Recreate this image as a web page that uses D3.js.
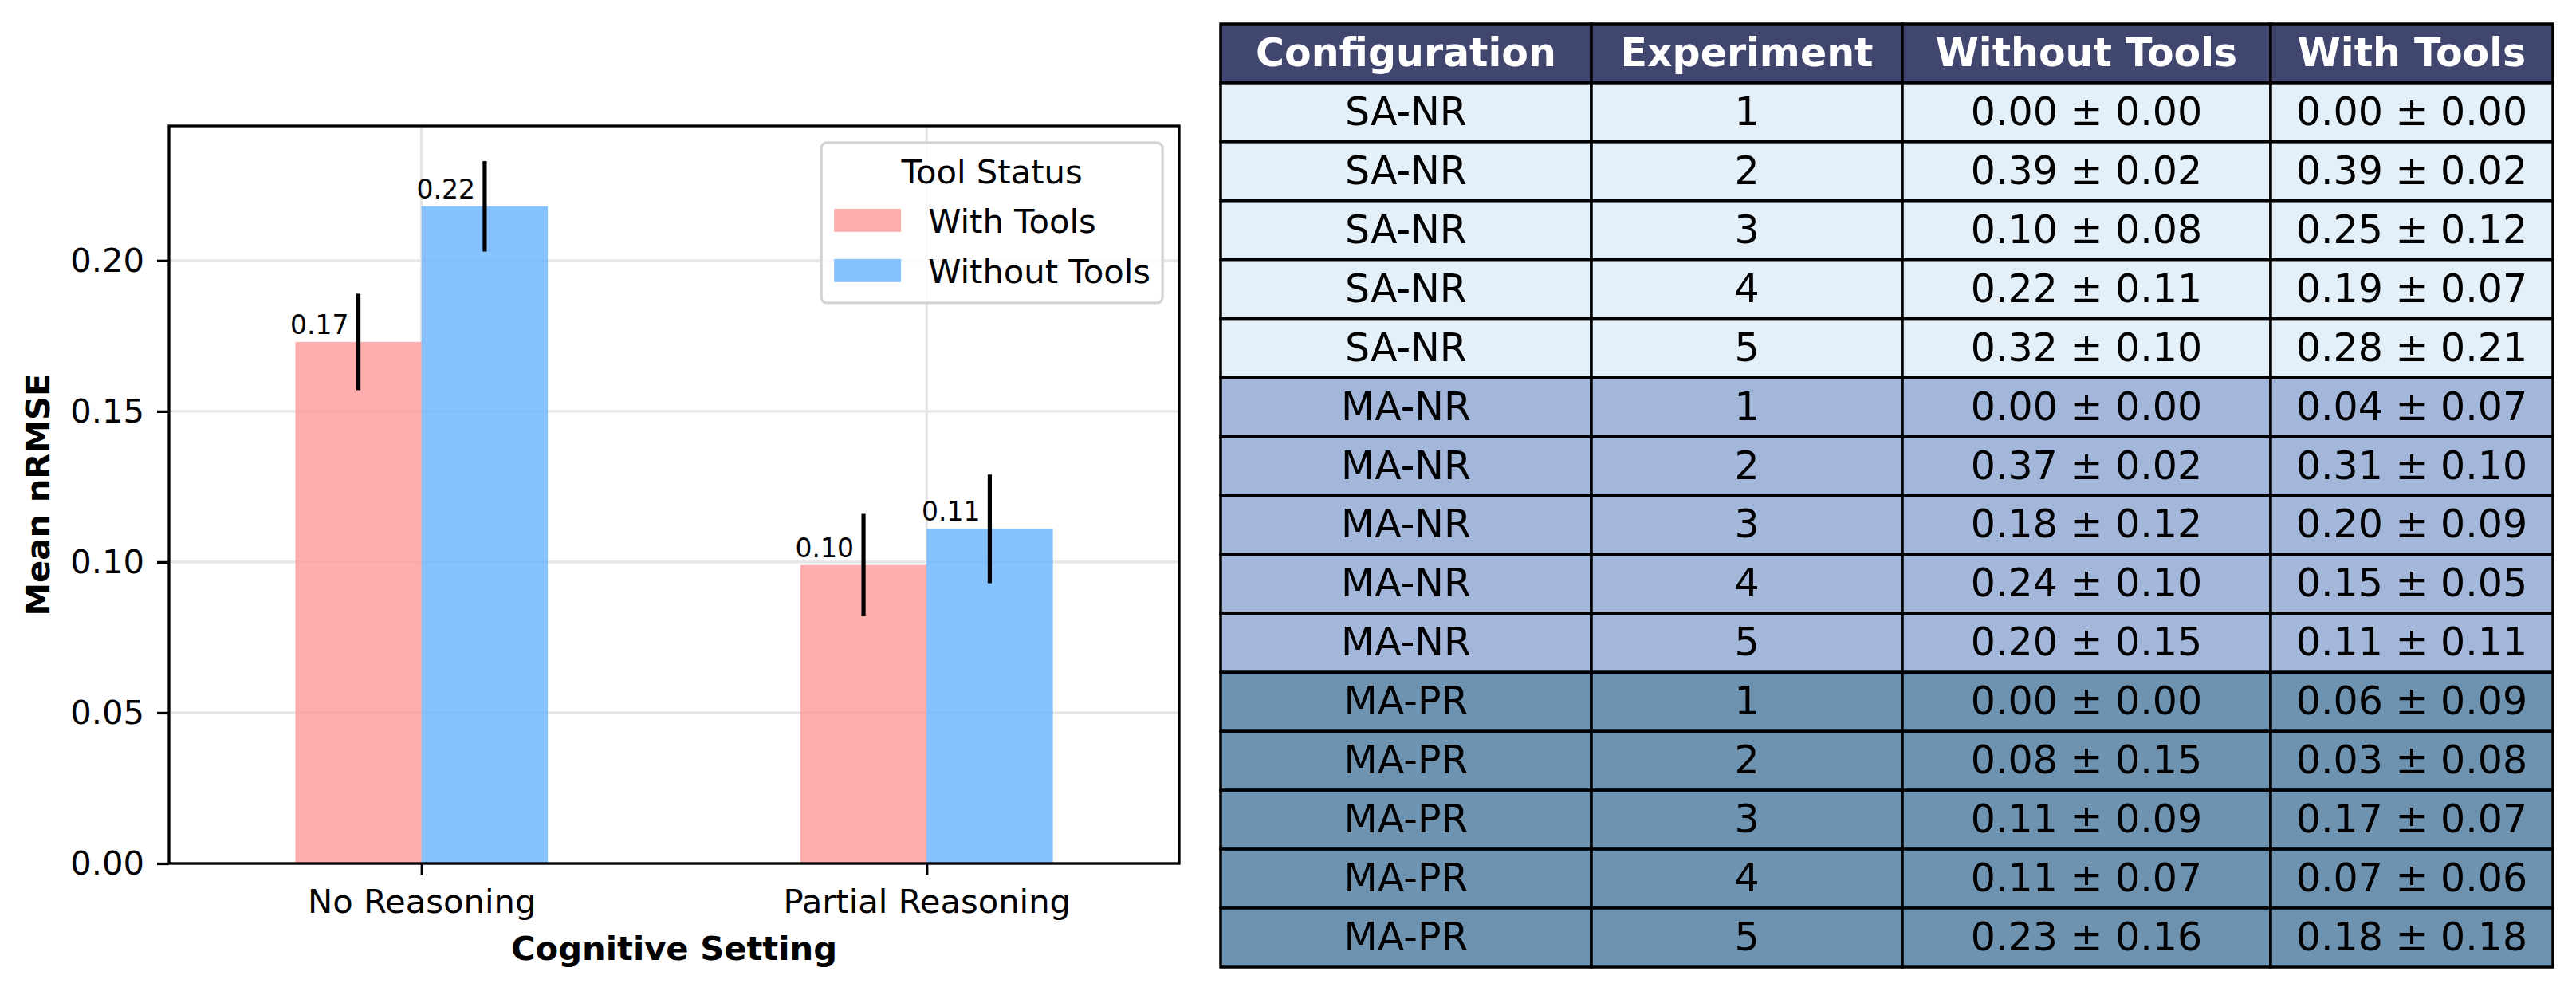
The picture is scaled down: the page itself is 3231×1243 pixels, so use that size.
<!DOCTYPE html>
<html>
<head>
<meta charset="utf-8">
<script src="https://cdn.jsdelivr.net/npm/d3@7"></script>
<style>
  body { margin: 0; background: #ffffff; }
  svg text { font-family: "DejaVu Sans", sans-serif; }
</style>
</head>
<body>
<svg id="chart-svg" width="3231" height="1243"></svg>
<script>
////////////////////////////////////////////////////////////////////////////////
// Data
var settings = ["No Reasoning", "Partial Reasoning"];
var toolStatus = ["With Tools", "Without Tools"];
var meanWith = [0.173, 0.099];
var meanWithout = [0.218, 0.111];
var errWith = [0.016, 0.017];
var errWithout = [0.015, 0.018];
var yTicks = [0.00, 0.05, 0.10, 0.15, 0.20];

var tableHeader = ["Configuration", "Experiment", "Without Tools", "With Tools"];
var configs = ["SA-NR", "SA-NR", "SA-NR", "SA-NR", "SA-NR",
               "MA-NR", "MA-NR", "MA-NR", "MA-NR", "MA-NR",
               "MA-PR", "MA-PR", "MA-PR", "MA-PR", "MA-PR"];
var experiments = [1, 2, 3, 4, 5, 1, 2, 3, 4, 5, 1, 2, 3, 4, 5];
var withoutTools = ["0.00 ± 0.00", "0.39 ± 0.02", "0.10 ± 0.08", "0.22 ± 0.11", "0.32 ± 0.10",
                    "0.00 ± 0.00", "0.37 ± 0.02", "0.18 ± 0.12", "0.24 ± 0.10", "0.20 ± 0.15",
                    "0.00 ± 0.00", "0.08 ± 0.15", "0.11 ± 0.09", "0.11 ± 0.07", "0.23 ± 0.16"];
var withTools = ["0.00 ± 0.00", "0.39 ± 0.02", "0.25 ± 0.12", "0.19 ± 0.07", "0.28 ± 0.21",
                 "0.04 ± 0.07", "0.31 ± 0.10", "0.20 ± 0.09", "0.15 ± 0.05", "0.11 ± 0.11",
                 "0.06 ± 0.09", "0.03 ± 0.08", "0.17 ± 0.07", "0.07 ± 0.06", "0.18 ± 0.18"];

////////////////////////////////////////////////////////////////////////////////
const svg = d3.select("#chart-svg");
svg.append("rect").attr("width", 3231).attr("height", 1243).attr("fill", "#ffffff");

// Bar chart margins (axes box)
var ax_left = 212, ax_right = 1479, ax_top = 158, ax_bottom = 1083;
var fs_tick = 41.7;
var lw = 3.3;
var barWidth = 0.25;

var series = [
  { name: toolStatus[0], color: "#ff9999", mean: meanWith, err: errWith, offset: -barWidth/2 },
  { name: toolStatus[1], color: "#66b3ff", mean: meanWithout, err: errWithout, offset: barWidth/2 }
];

var yMax = d3.max(series, function(s) { return d3.max(s.mean, function(d,i) { return d + s.err[i]; }); }) * 1.05;

var x = d3.scaleLinear().domain([-0.5, settings.length - 0.5]).range([ax_left, ax_right]);
var y = d3.scaleLinear().domain([0, yMax]).range([ax_bottom, ax_top]);

function drawChart() {
  var g = svg.append("g");

  // grid
  g.selectAll(".hgrid")
      .data(yTicks)
      .enter()
      .append("line")
      .attr("x1", ax_left).attr("x2", ax_right)
      .attr("y1", function(d) { return y(d); })
      .attr("y2", function(d) { return y(d); })
      .attr("stroke", "#e6e6e6")
      .attr("stroke-width", lw);
  g.selectAll(".vgrid")
      .data(settings)
      .enter()
      .append("line")
      .attr("x1", function(d,i) { return x(i); })
      .attr("x2", function(d,i) { return x(i); })
      .attr("y1", ax_top).attr("y2", ax_bottom)
      .attr("stroke", "#e6e6e6")
      .attr("stroke-width", lw);

  // bars, error bars, value labels
  series.forEach(function(s) {
    var bw = x(barWidth) - x(0);
    g.selectAll(".bar")
        .data(s.mean)
        .enter()
        .append("rect")
        .attr("x", function(d,i) { return x(i + s.offset - barWidth/2); })
        .attr("y", function(d) { return y(d); })
        .attr("width", bw)
        .attr("height", function(d) { return y(0) - y(d); })
        .attr("fill", s.color)
        .attr("fill-opacity", 0.8);
    g.selectAll(".err")
        .data(s.mean)
        .enter()
        .append("line")
        .attr("x1", function(d,i) { return x(i + s.offset); })
        .attr("x2", function(d,i) { return x(i + s.offset); })
        .attr("y1", function(d,i) { return y(d - s.err[i]); })
        .attr("y2", function(d,i) { return y(d + s.err[i]); })
        .attr("stroke", "#000000")
        .attr("stroke-width", 5.2);
    g.selectAll(".vlabel")
        .data(s.mean)
        .enter()
        .append("text")
        .attr("x", function(d,i) { return x(i + s.offset) - 12; })
        .attr("y", function(d) { return y(d) - 10; })
        .attr("text-anchor", "end")
        .attr("font-size", 33)
        .text(function(d) { return d3.format(".2f")(d); });
  });

  // axes
  var yAxis = g.append("g")
      .attr("transform", "translate(" + ax_left + ",0)")
      .call(d3.axisLeft(y).tickValues(yTicks).tickFormat(d3.format(".2f")).tickSize(15).tickPadding(16));
  var xAxis = g.append("g")
      .attr("transform", "translate(0," + ax_bottom + ")")
      .call(d3.axisBottom(x).tickValues(d3.range(settings.length))
                            .tickFormat(function(d) { return settings[d]; })
                            .tickSize(15).tickPadding(17));
  [xAxis, yAxis].forEach(function(a) {
    a.select(".domain").remove();
    a.selectAll(".tick line").attr("stroke", "#000").attr("stroke-width", lw);
    a.selectAll(".tick text").attr("font-size", fs_tick).attr("fill", "#000")
        .attr("font-family", "DejaVu Sans");
  });

  // frame
  g.append("rect")
      .attr("x", ax_left).attr("y", ax_top)
      .attr("width", ax_right - ax_left).attr("height", ax_bottom - ax_top)
      .attr("fill", "none")
      .attr("stroke", "#000")
      .attr("stroke-width", lw);

  // axis labels
  g.append("text")
      .attr("x", (ax_left + ax_right)/2)
      .attr("y", 1204)
      .attr("text-anchor", "middle")
      .attr("font-size", fs_tick)
      .attr("font-weight", "bold")
      .text("Cognitive Setting");
  g.append("text")
      .attr("transform", "translate(62," + (ax_top + ax_bottom)/2 + ") rotate(-90)")
      .attr("text-anchor", "middle")
      .attr("font-size", fs_tick)
      .attr("font-weight", "bold")
      .text("Mean nRMSE");

  // legend
  var pad = fs_tick*0.5;
  var lg_w = 428, lg_h = 201;
  var lg = g.append("g")
      .attr("transform", "translate(" + (ax_right - pad - lg_w) + "," + (ax_top + pad) + ")");
  lg.append("rect")
      .attr("x", 0).attr("y", 0)
      .attr("width", lg_w).attr("height", lg_h)
      .attr("rx", 7)
      .attr("fill", "#ffffff").attr("fill-opacity", 0.8)
      .attr("stroke", "#d4d4d4")
      .attr("stroke-width", 3.3);
  lg.append("text")
      .attr("x", lg_w/2)
      .attr("y", 51)
      .attr("text-anchor", "middle")
      .attr("font-size", fs_tick)
      .text("Tool Status");
  lg.selectAll(".lgpatch")
      .data(series)
      .enter()
      .append("rect")
      .attr("x", 16)
      .attr("y", function(d,i) { return 83 + i*63; })
      .attr("width", 84)
      .attr("height", 29)
      .attr("fill", function(d) { return d.color; })
      .attr("fill-opacity", 0.8);
  lg.selectAll(".lglabel")
      .data(series)
      .enter()
      .append("text")
      .attr("x", 134)
      .attr("y", function(d,i) { return 113 + i*63; })
      .attr("font-size", fs_tick)
      .text(function(d) { return d.name; });
}; // end drawChart

////////////////////////////////////////////////////////////////////////////////
// Table
var tb_top = 30, tb_bottom = 1213;
var colEdges = [1531, 1996, 2386, 2848, 3202];
var fs_cell = 49;
var rowColor = d3.scaleOrdinal()
    .domain(["SA-NR", "MA-NR", "MA-PR"])
    .range(["#e3f0f9", "#a3b7db", "#6e93b1"]);

function drawTable() {
  var rows = configs.map(function(c, i) {
    return [c, String(experiments[i]), withoutTools[i], withTools[i]];
  });
  var nRows = rows.length + 1;
  var rowH = (tb_bottom - tb_top) / nRows;
  var gT = svg.append("g");

  var allRows = [{ cells: tableHeader, header: true, fill: "#40466e" }].concat(
    rows.map(function(r) { return { cells: r, header: false, fill: rowColor(r[0]) }; }));

  var rowG = gT.selectAll(".trow")
      .data(allRows)
      .enter()
      .append("g")
      .attr("transform", function(d,i) { return "translate(0," + (tb_top + i*rowH) + ")"; });
  rowG.selectAll(".cellbg")
      .data(function(d) { return d.cells.map(function(c) { return { text: c, row: d }; }); })
      .enter()
      .append("rect")
      .attr("x", function(d,j) { return colEdges[j]; })
      .attr("y", 0)
      .attr("width", function(d,j) { return colEdges[j+1] - colEdges[j]; })
      .attr("height", rowH)
      .attr("fill", function(d) { return d.row.fill; })
      .attr("stroke", "#000")
      .attr("stroke-width", 3.5);
  rowG.selectAll(".celltext")
      .data(function(d) { return d.cells.map(function(c) { return { text: c, row: d }; }); })
      .enter()
      .append("text")
      .attr("x", function(d,j) { return (colEdges[j] + colEdges[j+1])/2; })
      .attr("y", rowH/2 + 16)
      .attr("text-anchor", "middle")
      .attr("font-size", fs_cell)
      .attr("font-weight", function(d) { return d.row.header ? "bold" : "normal"; })
      .attr("fill", function(d) { return d.row.header ? "#ffffff" : "#000000"; })
      .text(function(d) { return d.text; });
}; // end drawTable

function init() {
  drawChart();
  drawTable();
}; // end init
init();
</script>
</body>
</html>
